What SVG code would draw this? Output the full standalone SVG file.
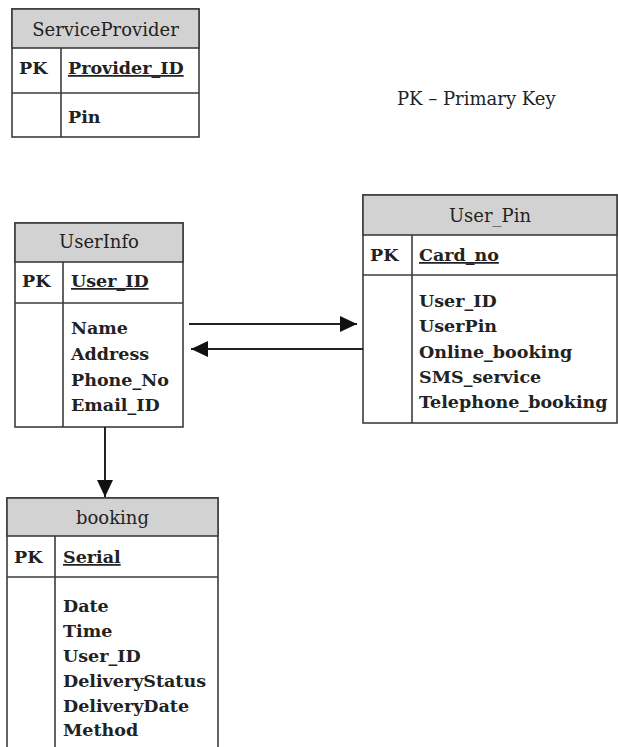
<svg xmlns="http://www.w3.org/2000/svg" width="618" height="747" viewBox="0 0 618 747">
<style>
.box{fill:#fff;stroke:#3c3c3c;stroke-width:1.6}
.hdr{fill:#d2d2d2;stroke:#3c3c3c;stroke-width:1.6}
.ln{stroke:#3c3c3c;stroke-width:1.6;fill:none}
.t{font-family:"DejaVu Serif","Liberation Serif",serif;font-size:18px;fill:#222}
.h{text-anchor:middle}
.b{font-weight:bold;font-size:17.5px}
.u{text-decoration:underline}
.con{stroke:#222;stroke-width:2;fill:none}
</style>
<defs>
<marker id="ah" viewBox="0 0 17 16" refX="17" refY="8" markerWidth="17" markerHeight="16" markerUnits="userSpaceOnUse" orient="auto">
<path d="M0,0 L17,8 L0,16 Z" fill="#111"/>
</marker>
</defs>
<rect width="618" height="747" fill="#fff"/>

<g id="ServiceProvider">
<rect class="box" x="12" y="9" width="187" height="128"/>
<rect class="hdr" x="12" y="9" width="187" height="39"/>
<line class="ln" x1="12" y1="93" x2="199" y2="93"/>
<line class="ln" x1="61" y1="48" x2="61" y2="137"/>
<text class="t h" x="105.5" y="36">ServiceProvider</text>
<text class="t b" x="19" y="74">PK</text>
<text class="t b u" x="68" y="74">Provider_ID</text>
<text class="t b" x="68" y="123">Pin</text>
</g>

<g id="legend">
<text class="t" x="397" y="105">PK – Primary Key</text>
</g>

<g id="UserInfo">
<rect class="box" x="15" y="223" width="168" height="204"/>
<rect class="hdr" x="15" y="223" width="168" height="39"/>
<line class="ln" x1="15" y1="303" x2="183" y2="303"/>
<line class="ln" x1="63" y1="262" x2="63" y2="427"/>
<text class="t h" x="99" y="248">UserInfo</text>
<text class="t b" x="22" y="287">PK</text>
<text class="t b u" x="71" y="287">User_ID</text>
<text class="t b" x="71" y="334">Name</text>
<text class="t b" x="71" y="360">Address</text>
<text class="t b" x="71" y="386">Phone_No</text>
<text class="t b" x="71" y="411">Email_ID</text>
</g>

<g id="User_Pin">
<rect class="box" x="363" y="195" width="254" height="228"/>
<rect class="hdr" x="363" y="195" width="254" height="40"/>
<line class="ln" x1="363" y1="275" x2="617" y2="275"/>
<line class="ln" x1="412" y1="235" x2="412" y2="423"/>
<text class="t h" x="490" y="222">User_Pin</text>
<text class="t b" x="370" y="261">PK</text>
<text class="t b u" x="419" y="261">Card_no</text>
<text class="t b" x="419" y="307">User_ID</text>
<text class="t b" x="419" y="332">UserPin</text>
<text class="t b" x="419" y="358">Online_booking</text>
<text class="t b" x="419" y="383">SMS_service</text>
<text class="t b" x="419" y="408">Telephone_booking</text>
</g>

<g id="booking">
<rect class="box" x="7" y="498" width="211" height="260"/>
<rect class="hdr" x="7" y="498" width="211" height="38"/>
<line class="ln" x1="7" y1="577" x2="218" y2="577"/>
<line class="ln" x1="55" y1="536" x2="55" y2="747"/>
<text class="t h" x="112.5" y="524">booking</text>
<text class="t b" x="14" y="563">PK</text>
<text class="t b u" x="63" y="563">Serial</text>
<text class="t b" x="63" y="612">Date</text>
<text class="t b" x="63" y="637">Time</text>
<text class="t b" x="63" y="662">User_ID</text>
<text class="t b" x="63" y="687">DeliveryStatus</text>
<text class="t b" x="63" y="712">DeliveryDate</text>
<text class="t b" x="63" y="736">Method</text>
</g>

<g id="connectors">
<line class="con" x1="189" y1="324" x2="357" y2="324" marker-end="url(#ah)"/>
<line class="con" x1="363" y1="349" x2="191" y2="349" marker-end="url(#ah)"/>
<line class="con" x1="105" y1="427" x2="105" y2="497" marker-end="url(#ah)"/>
</g>
</svg>
